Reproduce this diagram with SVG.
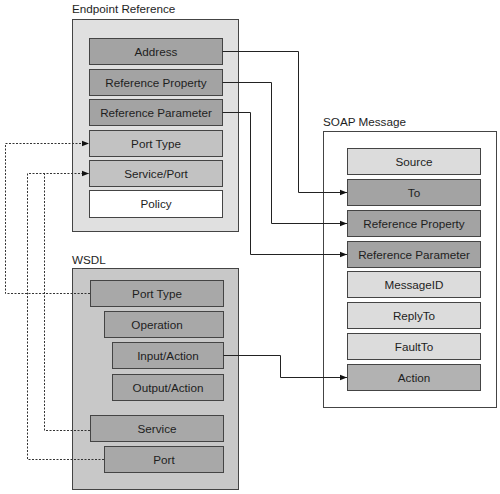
<svg xmlns="http://www.w3.org/2000/svg" width="500" height="494" viewBox="0 0 500 494">
<defs>
<marker id="arr" viewBox="0 0 10 10" refX="10" refY="5" markerWidth="7" markerHeight="7" markerUnits="userSpaceOnUse" orient="auto">
<path d="M0,1 L10,5 L0,9 z" fill="#111"/>
</marker>
<style>
text{font-family:"Liberation Sans",Arial,sans-serif;font-size:11.7px;fill:#1e1e1e}
.lbl{text-anchor:middle}
.outer{stroke:#444;stroke-width:1}
.box{stroke:#444;stroke-width:1}
.dk{fill:#a3a3a3}
.md{fill:#c2c2c2}
.lt{fill:#dcdcdc}
.wh{fill:#ffffff}
.act{fill:#b2b2b2}
.ws{fill:#a8a8a8}
.solid{fill:none;stroke:#222;stroke-width:1}
.dot{fill:none;stroke:#333;stroke-width:1;stroke-dasharray:2,1.5}
</style>
</defs>
<rect width="500" height="494" fill="#fff"/>

<g id="endpoint-reference">
<text x="72" y="13">Endpoint Reference</text>
<rect class="outer" x="72.5" y="19.5" width="166" height="212" fill="#e0e0e0"/>
</g>
<g id="er-address"><rect class="box dk" x="89.5" y="38.5" width="133" height="26"/><text class="lbl" x="156" y="55.5">Address</text></g>
<g id="er-refprop"><rect class="box dk" x="89.5" y="69.5" width="133" height="26"/><text class="lbl" x="156" y="86.5">Reference Property</text></g>
<g id="er-refparam"><rect class="box dk" x="89.5" y="99.5" width="133" height="26"/><text class="lbl" x="156" y="116.5">Reference Parameter</text></g>
<g id="er-porttype"><rect class="box md" x="89.5" y="130.5" width="133" height="26"/><text class="lbl" x="156" y="147.5">Port Type</text></g>
<g id="er-serviceport"><rect class="box md" x="89.5" y="160.5" width="133" height="26"/><text class="lbl" x="156" y="177.5">Service/Port</text></g>
<g id="er-policy"><rect class="box wh" x="89.5" y="190.5" width="133" height="27"/><text class="lbl" x="156" y="208">Policy</text></g>

<g id="soap-message">
<text x="323" y="126">SOAP Message</text>
<rect class="outer" x="323.5" y="131.5" width="173" height="276" fill="#fff"/>
</g>
<g id="soap-source"><rect class="box lt" x="347.5" y="148.5" width="133" height="26"/><text class="lbl" x="414" y="165.5">Source</text></g>
<g id="soap-to"><rect class="box dk" x="347.5" y="179.5" width="133" height="26"/><text class="lbl" x="414" y="196.5">To</text></g>
<g id="soap-refprop"><rect class="box dk" x="347.5" y="210.5" width="133" height="26"/><text class="lbl" x="414" y="227.5">Reference Property</text></g>
<g id="soap-refparam"><rect class="box dk" x="347.5" y="241.5" width="133" height="26"/><text class="lbl" x="414" y="258.5">Reference Parameter</text></g>
<g id="soap-messageid"><rect class="box lt" x="347.5" y="271.5" width="133" height="26"/><text class="lbl" x="414" y="288.5">MessageID</text></g>
<g id="soap-replyto"><rect class="box lt" x="347.5" y="302.5" width="133" height="26"/><text class="lbl" x="414" y="319.5">ReplyTo</text></g>
<g id="soap-faultto"><rect class="box lt" x="347.5" y="333.5" width="133" height="26"/><text class="lbl" x="414" y="350.5">FaultTo</text></g>
<g id="soap-action"><rect class="box act" x="347.5" y="364.5" width="133" height="26"/><text class="lbl" x="414" y="381.5">Action</text></g>

<g id="wsdl">
<text x="72" y="264">WSDL</text>
<rect class="outer" x="72.5" y="268.5" width="166" height="221" fill="#c8c8c8"/>
</g>
<g id="wsdl-porttype"><rect class="box ws" x="90.5" y="280.5" width="133" height="26"/><text class="lbl" x="157" y="297.5">Port Type</text></g>
<g id="wsdl-operation"><rect class="box ws" x="104.5" y="311.5" width="119" height="26"/><text class="lbl" x="157" y="328.5">Operation</text></g>
<g id="wsdl-input"><rect class="box ws" x="112.5" y="342.5" width="111" height="26"/><text class="lbl" x="168" y="359.5">Input/Action</text></g>
<g id="wsdl-output"><rect class="box ws" x="112.5" y="374.5" width="111" height="26"/><text class="lbl" x="168" y="391.5">Output/Action</text></g>
<g id="wsdl-service"><rect class="box ws" x="90.5" y="415.5" width="133" height="26"/><text class="lbl" x="157" y="432.5">Service</text></g>
<g id="wsdl-port"><rect class="box ws" x="104.5" y="446.5" width="119" height="26"/><text class="lbl" x="164" y="463.5">Port</text></g>

<g id="connectors">
<path class="solid" d="M222.5,51.5 H298.5 V192.5 H347" marker-end="url(#arr)"/>
<path class="solid" d="M222.5,82.5 H271.5 V223.5 H347" marker-end="url(#arr)"/>
<path class="solid" d="M222.5,112.5 H250.5 V254.5 H347" marker-end="url(#arr)"/>
<path class="solid" d="M223.5,355.5 H280.5 V377.5 H347" marker-end="url(#arr)"/>
<path class="dot" d="M90,293.5 H5.5 V143.5 H89" marker-end="url(#arr)"/>
<path class="dot" d="M104,459.5 H27.5 V173.5 H89" marker-end="url(#arr)"/>
<path class="dot" d="M90,430.5 H44.5 V173.5"/>
</g>
</svg>
